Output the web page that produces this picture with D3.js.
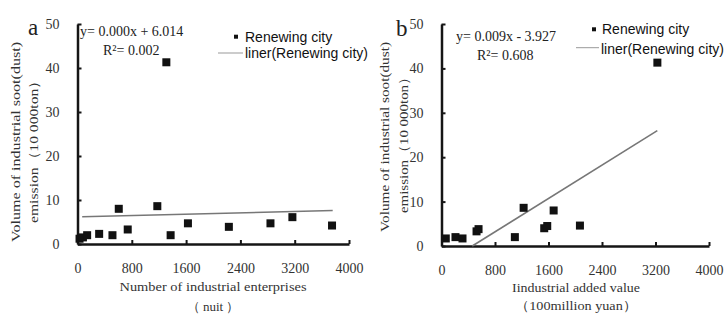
<!DOCTYPE html>
<html><head><meta charset="utf-8">
<script src="https://cdn.jsdelivr.net/npm/d3@7"></script>
<style>body{margin:0;background:#fff}svg{display:block}</style>
</head><body>
<svg id="c" width="728" height="314"></svg>
<script>
// ---- data ----
const xTicks = [0, 800, 1600, 2400, 3200, 4000];
const yTicks = [0, 10, 20, 30, 40, 50];

const aX = [30, 80, 142, 319, 515, 608, 740, 1176, 1309, 1372, 1627, 2230, 2843, 3166, 3750];
const aY = [1.2, 1.5, 2.0, 2.3, 2.0, 8.0, 3.3, 8.6, 41.3, 2.0, 4.7, 3.9, 4.7, 6.1, 4.2];
const aTrendX = [69, 3760];
const aTrendY = [6.2, 7.6];

const bX = [64, 209, 314, 524, 554, 1097, 1228, 1536, 1581, 1677, 2070, 3228];
const bY = [1.7, 2.0, 1.7, 3.3, 3.8, 2.0, 8.6, 4.0, 4.5, 8.0, 4.6, 41.3];
const bTrendX = [460, 3227];
const bTrendY = [0, 26.0];

const yTitle1 = "Volume of industrial soot(dust)";
const yTitle2 = "emission（10 000ton）";
const legendPoint = "Renewing city";
const legendLine = "liner(Renewing city)";

const panels = [
  {id:"a", xs:aX, ys:aY, tx:aTrendX, ty:aTrendY,
   eq:"y= 0.000x + 6.014", r2:"R²= 0.002",
   xt1:"Number of industrial enterprises", xt2:"（ nuit ）",
   x0:77.5, x1:349, y0:244, y1:24,
   lab:[28,35], eqPos:[80,36], r2Pos:[103,55],
   legM:[236,36.7], legT1:[245,41.5], legL:[218,243,53], legT2:[245,57.5],
   yt1:[20,142,200], yt2:[38,148,150], xtPos:[213,291,311], xt1Len:187, xt2Len:null},
  {id:"b", xs:bX, ys:bY, tx:bTrendX, ty:bTrendY,
   eq:"y= 0.009x - 3.927", r2:"R²= 0.608",
   xt1:"Iindustrial added value", xt2:"（100million yuan）",
   x0:441.5, x1:709, y0:246, y1:24,
   lab:[396,36], eqPos:[456,41], r2Pos:[477,60],
   legM:[594,29.3], legT1:[602,34], legL:[576,599,47.7], legT2:[601,53.5],
   yt1:[389,137,190], yt2:[407.5,141.5,143], xtPos:[576,292,310], xt1Len:128, xt2Len:122}
];

const svg = d3.select("#c");
const serif = "'Liberation Serif', 'Times New Roman', serif";
const sans = "'Liberation Sans', Arial, sans-serif";

panels.forEach(p => {
  const x = d3.scaleLinear().domain([0, 4000]).range([p.x0, p.x1]);
  const y = d3.scaleLinear().domain([0, 50]).range([p.y0, p.y1]);
  const g = svg.append("g");

  // axes
  const ya = d3.axisLeft(y).tickValues(yTicks).tickFormat(d3.format("d")).tickSizeInner(-4).tickSizeOuter(0).tickPadding(18);
  const xa = d3.axisBottom(x).tickValues(xTicks).tickFormat(d3.format("d")).tickSizeInner(-4).tickSizeOuter(0).tickPadding(19);
  const gy = g.append("g").attr("transform", `translate(${p.x0},0)`).call(ya);
  const gx = g.append("g").attr("transform", `translate(0,${p.y0})`).call(xa);
  [gx, gy].forEach(ax => {
    ax.select(".domain").attr("stroke", "#151515").attr("stroke-width", 2.5);
    ax.selectAll(".tick line").attr("stroke", "#151515").attr("stroke-width", 2);
    ax.selectAll(".tick text").attr("fill", "#333").style("font-family", serif).style("font-size", "14px");
  });

  // trend line
  const tl = p.tx.map((v, i) => [v, p.ty[i]]);
  g.append("path").datum(tl)
    .attr("d", d3.line().x(d => x(d[0])).y(d => y(d[1])))
    .attr("stroke", "#777").attr("stroke-width", 1.6).attr("fill", "none");

  // points
  const pts = p.xs.map((v, i) => [v, p.ys[i]]);
  g.selectAll("rect.pt").data(pts).join("rect").attr("class", "pt")
    .attr("x", d => x(d[0]) - 4).attr("y", d => y(d[1]) - 4)
    .attr("width", 8).attr("height", 8).attr("fill", "#111");

  // panel label
  g.append("text").attr("x", p.lab[0]).attr("y", p.lab[1]).text(p.id)
    .style("font-family", serif).style("font-size", "23px").attr("fill", "#222");

  // equation
  g.append("text").attr("x", p.eqPos[0]).attr("y", p.eqPos[1]).text(p.eq)
    .style("font-family", serif).style("font-size", "14px").attr("fill", "#222");
  g.append("text").attr("x", p.r2Pos[0]).attr("y", p.r2Pos[1]).text(p.r2)
    .style("font-family", serif).style("font-size", "14px").attr("fill", "#222");

  // legend
  g.append("rect").attr("x", p.legM[0] - 2).attr("y", p.legM[1] - 2).attr("width", 4).attr("height", 4).attr("fill", "#111");
  g.append("text").attr("x", p.legT1[0]).attr("y", p.legT1[1]).text(legendPoint)
    .style("font-family", sans).style("font-size", "14px").attr("fill", "#111");
  g.append("line").attr("x1", p.legL[0]).attr("x2", p.legL[1]).attr("y1", p.legL[2]).attr("y2", p.legL[2])
    .attr("stroke", "#999").attr("stroke-width", 1);
  g.append("text").attr("x", p.legT2[0]).attr("y", p.legT2[1]).text(legendLine)
    .style("font-family", sans).style("font-size", "14px").attr("fill", "#111");

  // y title
  [[yTitle1, p.yt1], [yTitle2, p.yt2]].forEach(([t, pos]) => {
    g.append("text").attr("transform", `translate(${pos[0]},${pos[1]}) rotate(-90)`)
      .attr("text-anchor", "middle").text(t)
      .attr("textLength", pos[2]).attr("lengthAdjust", "spacingAndGlyphs")
      .style("font-family", serif).style("font-size", "13px").attr("fill", "#333");
  });

  // x title
  g.append("text").attr("x", p.xtPos[0]).attr("y", p.xtPos[1]).attr("text-anchor", "middle").text(p.xt1)
    .attr("textLength", p.xt1Len).attr("lengthAdjust", "spacingAndGlyphs")
    .style("font-family", serif).style("font-size", "13px").attr("fill", "#333");
  const t2 = g.append("text").attr("x", p.xtPos[0]).attr("y", p.xtPos[2]).attr("text-anchor", "middle").text(p.xt2)
    .style("font-family", serif).style("font-size", "13px").attr("fill", "#333");
  if (p.xt2Len) t2.attr("textLength", p.xt2Len).attr("lengthAdjust", "spacingAndGlyphs");
});
</script>
</body></html>
